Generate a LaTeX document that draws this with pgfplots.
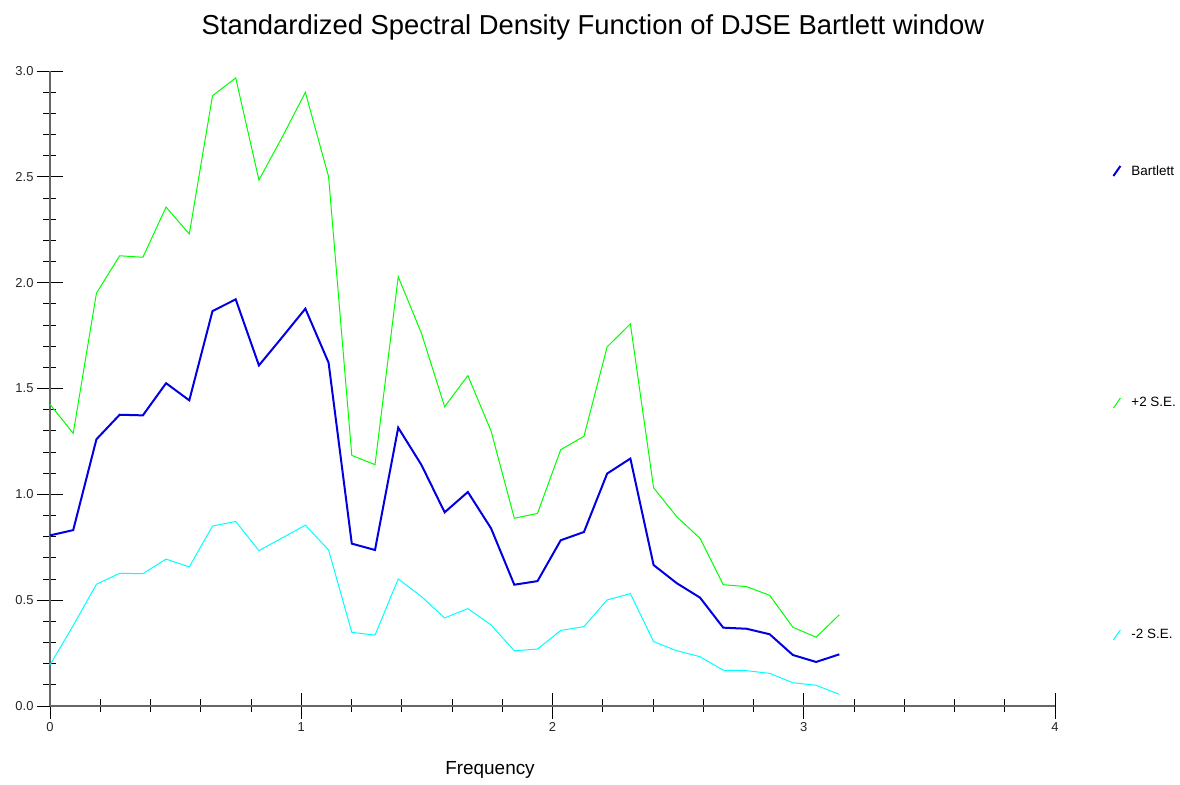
\documentclass[border=0pt]{standalone}
\usepackage{pgfplots}
\pgfplotsset{compat=1.18}
\usepackage{pgfplotstable}
\usepackage{fontspec}
\setmainfont{Liberation Sans}

\definecolor{sdfblue}{RGB}{0,0,225}
\definecolor{sdfgreen}{RGB}{0,255,0}
\definecolor{sdfcyan}{RGB}{0,255,255}

% frequency, Bartlett estimate, upper and lower 2 S.E. bands
\pgfplotstableread{
f       bart   up     lo
0.0000  0.806  1.425  0.194
0.0924  0.831  1.288  0.380
0.1848  1.260  1.950  0.575
0.2772  1.376  2.127  0.627
0.3696  1.373  2.120  0.625
0.4620  1.525  2.357  0.694
0.5544  1.444  2.230  0.657
0.6468  1.866  2.883  0.850
0.7392  1.921  2.967  0.872
0.8316  1.609  2.485  0.734
0.9240  1.742  2.687  0.794
1.0164  1.877  2.899  0.854
1.1088  1.622  2.501  0.737
1.2012  0.767  1.184  0.348
1.2936  0.737  1.140  0.335
1.3860  1.315  2.028  0.600
1.4784  1.139  1.761  0.517
1.5708  0.915  1.414  0.416
1.6632  1.011  1.561  0.460
1.7556  0.839  1.299  0.383
1.8480  0.573  0.887  0.261
1.9404  0.590  0.910  0.269
2.0328  0.783  1.211  0.357
2.1252  0.822  1.274  0.375
2.2176  1.098  1.697  0.501
2.3100  1.169  1.805  0.531
2.4024  0.666  1.031  0.304
2.4948  0.580  0.894  0.261
2.5872  0.512  0.792  0.233
2.6796  0.370  0.573  0.169
2.7720  0.365  0.564  0.167
2.8644  0.339  0.523  0.154
2.9568  0.241  0.372  0.110
3.0492  0.208  0.325  0.098
3.1416  0.244  0.431  0.055
}\sdfdata

\begin{document}
\begin{tikzpicture}[x=1bp,y=1bp]
\useasboundingbox (-50,-79) rectangle (1130,706);
\begin{axis}[
  at={(0,0)}, anchor=south west,
  scale only axis, width=1005bp, height=635bp,
  xmin=0, xmax=4, ymin=0, ymax=3,
  axis x line=bottom, axis y line=left,
  axis line style={-, draw=black!60, line width=1.2bp},
  xtick={0,1,2,3,4}, minor x tick num=4,
  ytick={0,0.5,1,1.5,2,2.5,3}, minor y tick num=4,
  tick align=center,
  major tick length=26bp, minor tick length=13bp,
  every tick/.style={black, line width=0.7bp},
  yticklabel={\pgfmathprintnumber[fixed,fixed zerofill,precision=1]{\tick}},
  /pgf/number format/assume math mode=true,
  ticklabel style={font=\fontsize{13}{15}\selectfont, text=black!85},
  yticklabel style={anchor=east},
  xticklabel style={anchor=north},
  clip=false,
  legend cell align=left,
  legend style={draw=none, fill=none, at={(axis description cs:1.054,0.858)},
    anchor=north west, row sep=217bp, font=\fontsize{13.5}{15}\selectfont},
]
\addplot[sdfblue, line width=2bp, legend image code/.code={\draw[sdfblue, line width=2bp] (0bp,-5bp) -- (7bp,5bp); \path (15bp,0bp);}] table[x=f, y=bart] {\sdfdata};
\addlegendentry{Bartlett}
\addplot[sdfgreen, line width=1bp, legend image code/.code={\draw[sdfgreen, line width=1bp] (0bp,-5bp) -- (7bp,5bp); \path (15bp,0bp);}] table[x=f, y=up] {\sdfdata};
\addlegendentry{+2 S.E.}
\addplot[sdfcyan, line width=1bp, legend image code/.code={\draw[sdfcyan, line width=1bp] (0bp,-5bp) -- (7bp,5bp); \path (15bp,0bp);}] table[x=f, y=lo] {\sdfdata};
\addlegendentry{-2 S.E.}
\end{axis}
\node[font=\fontsize{27.5}{32}\selectfont] at (543,679) {Standardized Spectral Density Function of DJSE Bartlett window};
\node[font=\fontsize{19}{22}\selectfont] at (440,-64) {Frequency};
\end{tikzpicture}
\end{document}
